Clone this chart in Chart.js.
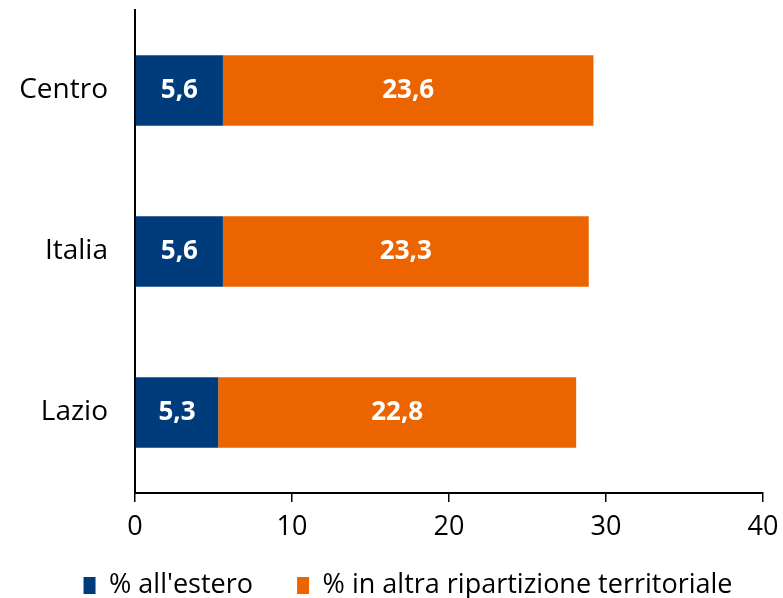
<!DOCTYPE html>
<html><head><meta charset="utf-8">
<script src="https://cdn.jsdelivr.net/npm/chart.js@4"></script>
<style>html,body{margin:0;padding:0;background:#fff}#w{width:783px;height:598px}</style>
</head><body><div id="w"><canvas id="c"></canvas></div>
<script>
const categories = ["Centro", "Italia", "Lazio"];
const esteroValues = [5.6, 5.6, 5.3];
const altraValues = [23.6, 23.3, 22.8];
const seriesNames = ["% all'estero", "% in altra ripartizione territoriale"];
const xTicks = [0, 10, 20, 30, 40];

const FONT = "'Open Sans', 'DejaVu Sans', sans-serif";

const labelPlugin = {
  id: 'barLabels',
  afterLayout(chart) {
    const lg = chart.legend;
    if (lg) { lg.left = 33; lg.top += 11; lg.bottom += 11; }
  },
  afterDatasetsDraw(chart) {
    const ctx = chart.ctx;
    ctx.save();
    ctx.fillStyle = '#fff';
    ctx.font = "bold 26px " + FONT;
    ctx.textAlign = 'center';
    ctx.textBaseline = 'middle';
    chart.data.datasets.forEach((ds, i) => {
      chart.getDatasetMeta(i).data.forEach((bar, j) => {
        const x = (bar.x + bar.base) / 2;
        ctx.fillText(ds.data[j].toFixed(1).replace('.', ','), x, bar.y);
      });
    });
    ctx.restore();
  }
};

new Chart(document.getElementById('c'), {
  type: 'bar',
  data: {
    labels: categories,
    datasets: [
      { label: seriesNames[0], data: esteroValues, backgroundColor: '#003C7B', barPercentage: 0.875, categoryPercentage: 0.5 },
      { label: seriesNames[1], data: altraValues, backgroundColor: '#EB6400', barPercentage: 0.875, categoryPercentage: 0.5 }
    ]
  },
  options: {
    indexAxis: 'y',
    responsive: true,
    maintainAspectRatio: false,
    animation: false,
    layout: { padding: { left: 0, right: 0, top: 10, bottom: 0 } },
    plugins: {
      legend: {
        position: 'bottom',
        labels: {
          font: { family: FONT, size: 27 }, color: '#000', boxWidth: 12, boxHeight: 17, padding: 2,
          generateLabels(chart) {
            const items = Chart.defaults.plugins.legend.labels.generateLabels(chart);
            items[0].text = items[0].text + '\u00a0\u00a0\u00a0\u00a0\u00a0\u00a0';
            return items;
          }
        }
      },
      tooltip: { enabled: false }
    },
    scales: {
      x: {
        stacked: true, min: 0, max: 40,
        afterBuildTicks(s) { s.ticks = xTicks.map(v => ({ value: v })); },
        ticks: { font: { family: FONT, size: 27 }, color: '#000', padding: 9 },
        grid: { display: true, drawOnChartArea: false, drawTicks: true, tickLength: 9, color: '#000', lineWidth: 1.5 },
        border: { display: true, color: '#000', width: 2 },
        afterFit(s) { s.height = 66; s.paddingLeft = 0; s.paddingRight = 20; }
      },
      y: {
        stacked: true,
        ticks: { font: { family: FONT, size: 28 }, color: '#000', padding: 19 },
        grid: { display: false },
        border: { display: true, color: '#000', width: 2 },
        afterFit(s) { s.width = 135; s.paddingTop = 0; s.paddingBottom = 0; }
      }
    }
  },
  plugins: [labelPlugin]
});
</script></body></html>
